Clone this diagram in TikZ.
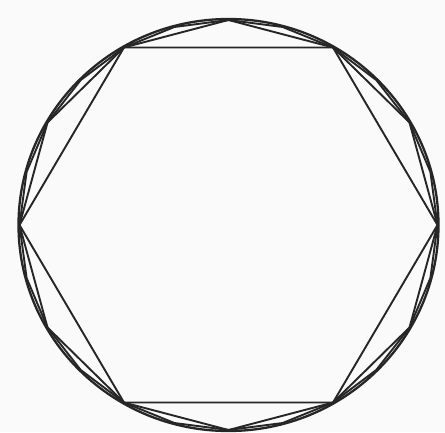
\documentclass[tikz,border=0pt]{standalone}
\usetikzlibrary{calc}
\begin{document}
\begin{tikzpicture}[x=1pt,y=-1pt,
  ink/.style={draw=black!85,line width=1.9pt,line join=round}]
\fill[black!2] (0,0) rectangle (445,432);
\useasboundingbox (0,0) rectangle (445,432);
\coordinate (c) at (228.5,225);
% circle
\draw[ink,line width=2.3pt] (c) ellipse [x radius=210, y radius=206];
% vertices on the circle every 15 degrees
\foreach \k in {0,...,23}{
  \coordinate (p\k) at ($(c)+({209*cos(15*\k)},{-205*sin(15*\k)})$);
}
% 24-gon
\draw[ink] (p0) \foreach \k in {1,...,23}{ -- (p\k)} -- cycle;
% 12-gon
\draw[ink] (p0) \foreach \k in {2,4,...,22}{ -- (p\k)} -- cycle;
% hexagon
\draw[ink] (p0) \foreach \k in {4,8,...,20}{ -- (p\k)} -- cycle;
\end{tikzpicture}
\end{document}
